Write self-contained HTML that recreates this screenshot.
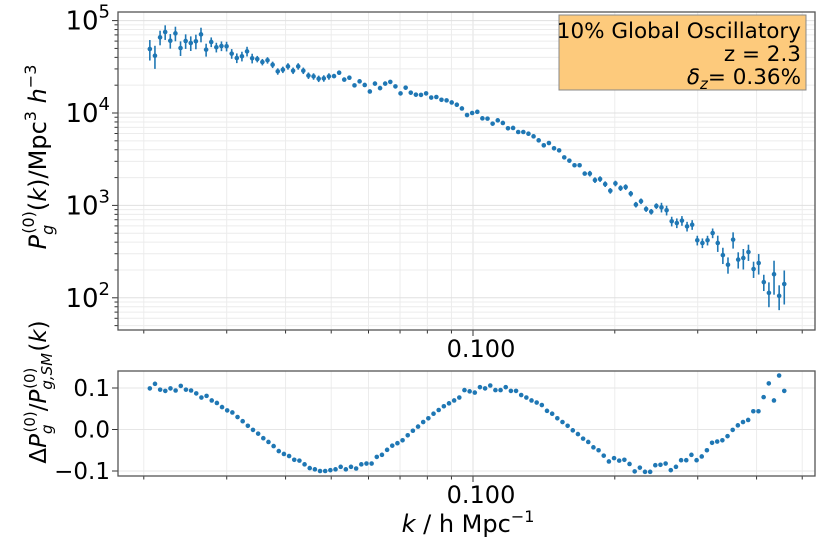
<!DOCTYPE html>
<html><head><meta charset="utf-8"><style>
html,body{margin:0;padding:0;background:#fff;}
svg{display:block;font-family:"DejaVu Sans","Liberation Sans",sans-serif;}
</style></head><body>
<svg id="chart" width="826" height="551" viewBox="0 0 826 551">
<g id="grid"></g>
<g id="marks"></g>
<g id="axes"></g>
<g>
<rect x="559" y="15" width="247" height="75" fill="#fdca7c" stroke="#888" stroke-width="1"/>
<text x="801" y="38" text-anchor="end" font-size="21.5" fill="#000">10% Global Oscillatory</text>
<text x="801" y="61" text-anchor="end" font-size="21.5" fill="#000">z = 2.3</text>
<text x="801" y="84" text-anchor="end" font-size="21.5" fill="#000"><tspan font-style="italic">δ</tspan><tspan font-style="italic" font-size="15" dy="5">z</tspan><tspan dy="-5">= 0.36%</tspan></text>
</g>
<text transform="translate(46,157) rotate(-90)" text-anchor="middle" font-size="24"><tspan font-style="italic">P</tspan><tspan font-style="italic" font-size="16" dy="7">g</tspan><tspan font-size="16" dy="-19" dx="-9">(0)</tspan><tspan dy="12">(</tspan><tspan font-style="italic">k</tspan><tspan>)/Mpc</tspan><tspan font-size="16" dy="-10">3</tspan><tspan dy="10"> </tspan><tspan font-style="italic">h</tspan><tspan font-size="16" dy="-10">−3</tspan></text>
<text transform="translate(46,392) rotate(-90)" text-anchor="middle" font-size="23"><tspan>Δ</tspan><tspan font-style="italic">P</tspan><tspan font-style="italic" font-size="15" dy="6">g</tspan><tspan font-size="15" dy="-17" dx="-8">(0)</tspan><tspan dy="11">/</tspan><tspan font-style="italic">P</tspan><tspan font-style="italic" font-size="15" dy="6">g,SM</tspan><tspan font-size="15" dy="-17" dx="-36">(0)</tspan><tspan dy="11" dx="16">(</tspan><tspan font-style="italic">k</tspan><tspan>)</tspan></text>
<text x="468" y="532" text-anchor="middle" font-size="24"><tspan font-style="italic">k</tspan><tspan> / h  Mpc</tspan><tspan font-size="16" dy="-10">−1</tspan></text>
</svg>
<script>
const kRange = [0.0206, 0.458];
const power = [49300,41700,65900,75300,60600,72800,50500,60200,57200,59700,71000,48500,58700,51400,53100,52700,43900,39400,41100,46500,39100,38400,35600,37200,33300,28200,29400,32000,28700,32000,28700,25400,24900,23500,23700,24900,25100,27300,23000,24100,19900,22000,20100,17100,20800,18600,20800,21700,19400,16300,18800,16600,15800,15700,16300,14700,14900,13900,13700,13000,12300,11200,9500,10000,10300,8750,8690,7670,8330,7800,6830,6890,6230,6230,5970,5590,5060,4470,4730,4150,3940,3310,3050,2720,2720,2210,2210,1880,1930,1700,1440,1730,1540,1580,1340,1020,1110,914,855,985,953,885,673,645,684,593,618,419,392,419,502,392,290,228,426,259,270,313,205,238,148,113,180,105,141];
const relErr = [0.25,0.28,0.18,0.18,0.18,0.18,0.18,0.18,0.18,0.18,0.18,0.16,0.12,0.12,0.12,0.12,0.12,0.12,0.12,0.12,0.12,0.08,0.08,0.08,0.08,0.08,0.08,0.08,0.08,0.08,0.08,0.08,0.08,0.08,0.08,0.08,0.05,0.05,0.05,0.05,0.05,0.05,0.05,0.05,0.05,0.05,0.05,0.05,0.05,0.05,0.05,0.05,0.05,0.05,0.05,0.05,0.05,0.05,0.05,0.05,0.05,0.04,0.04,0.04,0.04,0.04,0.04,0.04,0.04,0.04,0.04,0.04,0.04,0.04,0.04,0.04,0.04,0.04,0.04,0.04,0.04,0.04,0.04,0.04,0.04,0.04,0.07,0.07,0.07,0.07,0.07,0.07,0.07,0.07,0.07,0.07,0.07,0.07,0.07,0.07,0.12,0.12,0.12,0.12,0.12,0.12,0.12,0.12,0.12,0.12,0.12,0.2,0.2,0.2,0.2,0.2,0.25,0.2,0.2,0.25,0.2,0.3,0.4,0.3,0.4,0.3];
const residual = [0.099,0.110,0.096,0.093,0.099,0.094,0.105,0.096,0.094,0.087,0.077,0.081,0.070,0.064,0.054,0.046,0.041,0.030,0.020,0.009,-0.001,-0.010,-0.021,-0.030,-0.040,-0.052,-0.059,-0.064,-0.073,-0.075,-0.084,-0.093,-0.096,-0.100,-0.100,-0.098,-0.096,-0.090,-0.096,-0.090,-0.094,-0.084,-0.082,-0.082,-0.066,-0.061,-0.049,-0.039,-0.033,-0.026,-0.014,-0.003,0.007,0.018,0.027,0.038,0.047,0.056,0.063,0.070,0.077,0.095,0.092,0.089,0.102,0.099,0.106,0.095,0.095,0.102,0.093,0.093,0.083,0.077,0.070,0.065,0.059,0.045,0.038,0.027,0.018,0.009,-0.002,-0.011,-0.022,-0.030,-0.043,-0.050,-0.063,-0.077,-0.069,-0.075,-0.073,-0.083,-0.101,-0.092,-0.102,-0.102,-0.086,-0.085,-0.082,-0.098,-0.090,-0.074,-0.074,-0.061,-0.074,-0.065,-0.050,-0.032,-0.029,-0.026,-0.016,-0.001,0.010,0.018,0.023,0.044,0.044,0.078,0.111,0.070,0.130,0.093];
const xTickLabels = ["0.100"];
const topYTickExps = [2,3,4,5];
const botYTickLabels = ["0.1","0.0","−0.1"];
const botYTickValues = [0.1,0.0,-0.1];

const NS='http://www.w3.org/2000/svg';
const L=118,R=815,T1=12,B1=330,T2=371,B2=476;
function xs(k){return 473+471*Math.log10(k/0.1);}
function yTop(p){return 113-92.4*Math.log10(p/1e4);}
function yBot(v){return 429.5-415*v;}
function kAt(i,n){return kRange[0]*Math.pow(kRange[1]/kRange[0],i/(n-1));}
function mk(tag,attrs,parent){const e=document.createElementNS(NS,tag);for(const a in attrs)e.setAttribute(a,attrs[a]);parent.appendChild(e);return e;}
const grid=document.getElementById('grid'),marks=document.getElementById('marks'),axes=document.getElementById('axes');

const xk=[];for(let d=0.01;d<1;d*=10){for(let m=1;m<10;m++){const k=m*d;const x=xs(k);if(x>L&&x<R)xk.push([k,m===1]);}}
xk.forEach(([k,maj])=>{const x=xs(k);
 [[T1,B1],[T2,B2]].forEach(([t,b])=>{mk('line',{x1:x,x2:x,y1:t,y2:b,stroke:maj?'#e0e0e0':'#ececec','stroke-width':1},grid);
  mk('line',{x1:x,x2:x,y1:b,y2:b+(maj?6:3.5),stroke:'#333','stroke-width':1},axes);});});
for(let e=1;e<6;e++){for(let m=1;m<10;m++){const y=yTop(m*Math.pow(10,e));if(y>T1&&y<B1){
 mk('line',{x1:L,x2:R,y1:y,y2:y,stroke:m===1?'#e0e0e0':'#ececec','stroke-width':1},grid);
 mk('line',{x1:L-(m===1?6:3.5),x2:L,y1:y,y2:y,stroke:'#333','stroke-width':1},axes);}}}
topYTickExps.forEach(e=>{const y=yTop(Math.pow(10,e));const t=mk('text',{x:L-8,y:y+9,'text-anchor':'end','font-size':26},axes);
 
 
 const a=mk('tspan',{},t);a.textContent='10';const b=mk('tspan',{'font-size':18,dy:-12},t);b.textContent=String(e);});
botYTickValues.forEach((v,i)=>{const y=yBot(v);
 mk('line',{x1:L,x2:R,y1:y,y2:y,stroke:'#e6e6e6','stroke-width':1},grid);
 mk('line',{x1:L-6,x2:L,y1:y,y2:y,stroke:'#333','stroke-width':1},axes);
 const t=mk('text',{x:L-8,y:y+8,'text-anchor':'end','font-size':23},axes);
 
 
 t.textContent=botYTickLabels[i];});
[[B1+27],[B2+27]].forEach(([y])=>{const t=mk('text',{x:xs(0.1)+8,y:y,'text-anchor':'middle','font-size':24},axes);
 
 
 t.textContent=xTickLabels[0];});
[[T1,B1],[T2,B2]].forEach(([t,b])=>{const r=mk('rect',{x:L,y:t,width:R-L,height:b-t,fill:'none',stroke:'#555','stroke-width':1.3},axes);
 
 });
power.forEach((p,i)=>{const k=kAt(i,power.length),x=xs(k),e=relErr[i];
 const l=mk('line',{x1:x,x2:x,y1:yTop(p*(1+e)),y2:yTop(Math.max(p*(1-e),1)),stroke:'#1f77b4','stroke-width':1.6},marks);
 
 
 const c=mk('circle',{cx:x,cy:yTop(p),r:2.3,fill:'#1f77b4'},marks);
 
 });
residual.forEach((v,i)=>{const k=kAt(i,residual.length);
 const c=mk('circle',{cx:xs(k),cy:yBot(v),r:2.3,fill:'#1f77b4'},marks);
 
 });
</script>
</body></html>
